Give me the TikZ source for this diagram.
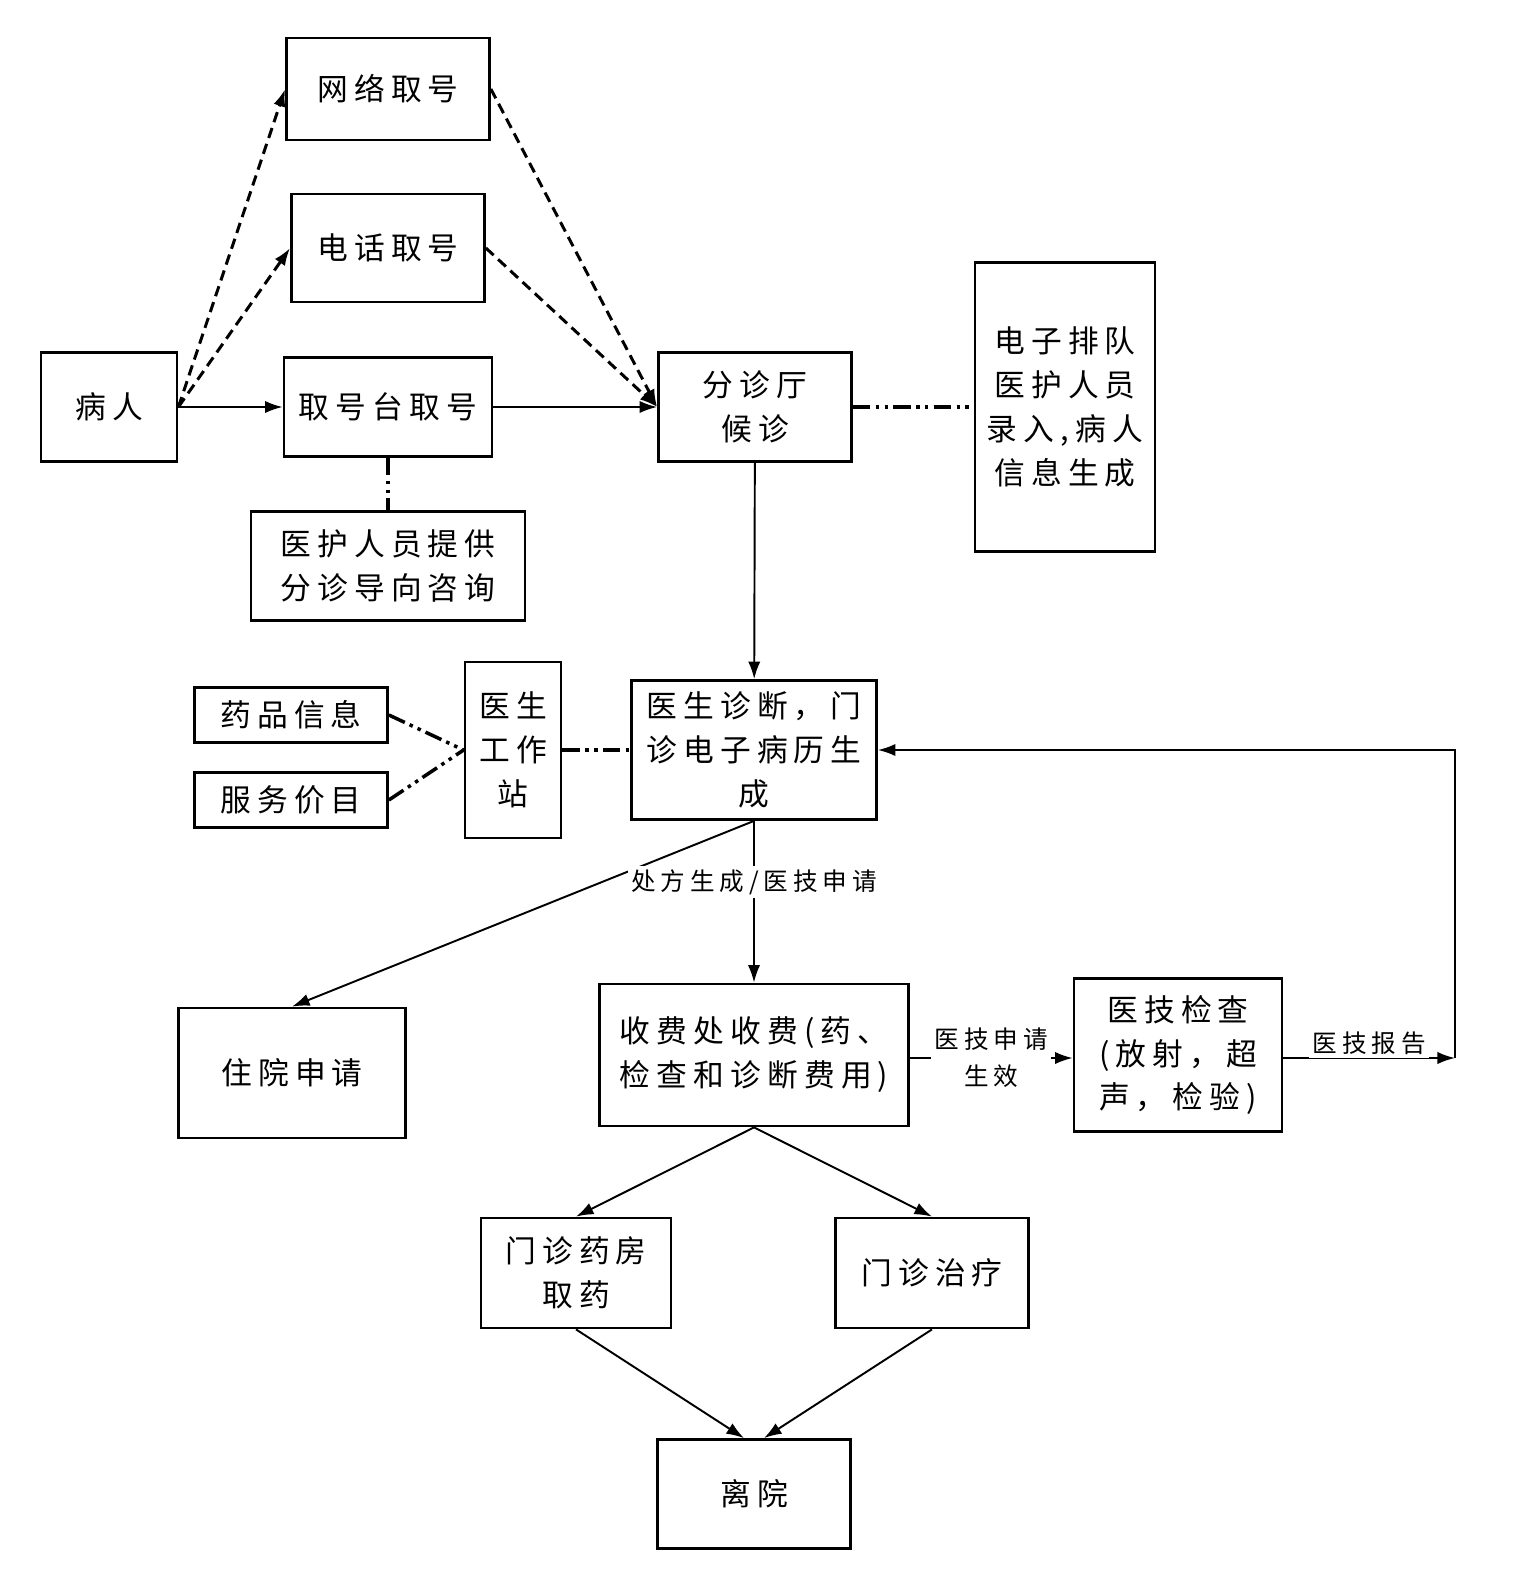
\documentclass[tikz,border=0pt]{standalone}
\usepackage{fontspec}
\setmainfont{Noto Sans CJK SC}[LetterSpace=20]
\usetikzlibrary{arrows.meta,positioning,calc}
\tikzset{
  block/.style={rectangle, draw, line width=1.6pt, inner sep=0pt, align=center,
                font=\fontsize{17.5}{25}\selectfont},
  tag/.style={fill=white, inner sep=2pt, align=center, font=\fontsize{14}{21}\selectfont},
  arrow/.style={->, >={Latex[length=10pt,width=7pt]}, line width=1.1pt},
  darrow/.style={->, >={Latex[length=10pt,width=7pt]}, line width=1.7pt, dash pattern=on 6pt off 3.5pt},
  dotline/.style={line width=2pt, dash pattern=on 10pt off 3pt on 2pt off 3pt on 2pt off 3pt},
}

\begin{document}
\begin{tikzpicture}[x=0.02cm, y=-0.02cm]
\useasboundingbox (0,0) rectangle (1512,1575);

% -------------------- registration --------------------
\node[block, minimum width=2.72cm, minimum height=2.18cm] (patient) at (109,407) {病人};
\node[block, minimum width=4.06cm, minimum height=2.04cm] (web) at (388,89) {网络取号};
\node[block, minimum width=3.86cm, minimum height=2.16cm] (phone) at (388,248) {电话取号};
\node[block, minimum width=4.16cm, minimum height=1.98cm] (desk) at (388,407) {取号台取号};
\node[block, minimum width=5.48cm, minimum height=2.18cm] (guide) at (388,566) {医护人员提供\\分诊导向咨询};

\draw[darrow] (patient.east) -- (web.west);
\draw[darrow] (patient.east) -- (phone.west);
\draw[arrow] (patient) -- (desk);
\draw[dotline] (desk) -- (guide);

% -------------------- waiting hall --------------------
\node[block, minimum width=3.86cm, minimum height=2.18cm] (hall) at (755,407) {分诊厅\\候诊};
\node[block, minimum width=3.6cm, minimum height=5.78cm] (queue) at (1065,407)
    {电子排队\\医护人员\\录入,病人\\信息生成};

\draw[darrow] (web.east) -- (hall.west);
\draw[darrow] (phone.east) -- (hall.west);
\draw[arrow] (desk) -- (hall);
\draw[dotline] (hall) -- (queue);

% -------------------- diagnosis --------------------
\node[block, minimum width=3.86cm, minimum height=1.1cm] (drug) at (291,715) {药品信息};
\node[block, minimum width=3.86cm, minimum height=1.1cm] (price) at (291,800) {服务价目};
\node[block, minimum width=1.92cm, minimum height=3.52cm] (station) at (513,750) {医生\\工作\\站};
\node[block, minimum width=4.9cm, minimum height=2.78cm] (diag) at (754,750)
    {医生诊断，门\\诊电子病历生\\成};

\draw[arrow] (hall) -- (diag);
\draw[dotline] (drug.east) -- (station.west);
\draw[dotline] (price.east) -- (station.west);
\draw[dotline] (station) -- (diag);

% -------------------- payment and exams --------------------
\node[block, minimum width=4.54cm, minimum height=2.6cm] (inpatient) at (292,1073) {住院申请};
\node[block, minimum width=6.18cm, minimum height=2.84cm] (fee) at (754,1055)
    {收费处收费(药、\\检查和诊断费用)};
\node[block, minimum width=4.16cm, minimum height=3.06cm] (exam) at (1178,1055)
    {医技检查\\(放射，超\\声，检验)};
\coordinate (turn) at (1455,1058);

\draw[arrow] (diag.south) -- (inpatient.north);
\draw[arrow] (diag) -- node[tag, pos=0.38] {处方生成/医技申请} (fee);
\draw[arrow] (fee.east |- turn) -- node[tag] {医技申请\\生效} (exam.west |- turn);
\draw[arrow] (exam.east |- turn) -- node[tag, yshift=0.3cm] {医技报告} (turn);
\draw[arrow] (turn) |- (diag.east);

% -------------------- leaving --------------------
\node[block, minimum width=3.8cm, minimum height=2.2cm] (pharmacy) at (576,1273) {门诊药房\\取药};
\node[block, minimum width=3.86cm, minimum height=2.2cm] (treat) at (932,1273) {门诊治疗};
\node[block, minimum width=3.86cm, minimum height=2.18cm] (leave) at (754,1494) {离院};

\draw[arrow] (fee.south) -- (pharmacy.north);
\draw[arrow] (fee.south) -- (treat.north);
\draw[arrow] (pharmacy.south) -- ($(leave.north)+(-10,0)$);
\draw[arrow] (treat.south) -- ($(leave.north)+(10,0)$);

\end{tikzpicture}
\end{document}
